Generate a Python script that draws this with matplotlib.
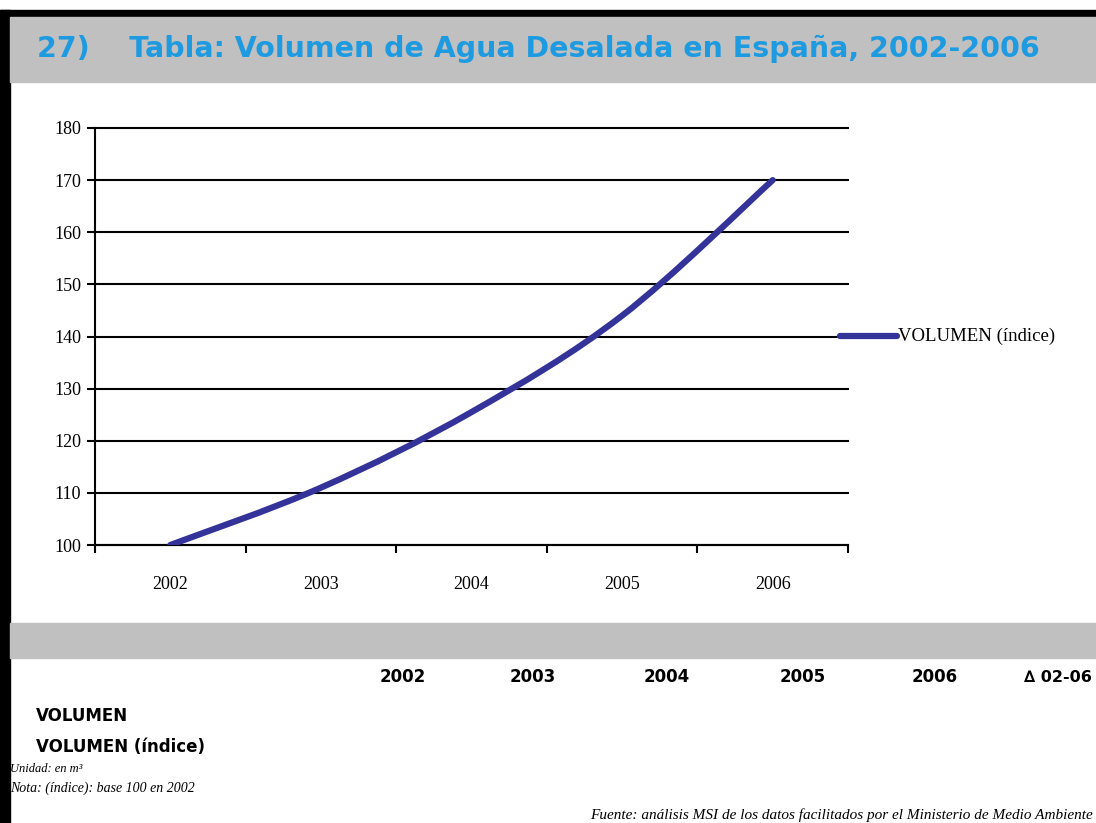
import numpy as np
import matplotlib.pyplot as plt
from matplotlib.path import Path
from matplotlib.patches import PathPatch, Rectangle
from matplotlib.lines import Line2D

# data
years = ["2002", "2003", "2004", "2005", "2006"]
volumen_indice = [100, 111, 125.5, 144, 170]
table_cols = ["2002", "2003", "2004", "2005", "2006", "\u2206 02-06"]
table_rows = ["VOLUMEN", "VOLUMEN (índice)"]

BLUE = "#333399"
TITLE_BLUE = "#1e9be0"
GRAY = "#c0c0c0"

fig = plt.figure(figsize=(10.96, 8.23), dpi=100)
W, H = 1096, 823

def fx(x):
    return x / W

def fy(y):
    return 1 - y / H

# frame, title band, table band
fig.patches.append(Rectangle((0, fy(823)), fx(10), fy(10) - fy(823), transform=fig.transFigure,
                             color="black", zorder=0))
fig.patches.append(Rectangle((0, fy(17)), 1, fy(10) - fy(17), transform=fig.transFigure,
                             color="black", zorder=0))
fig.patches.append(Rectangle((fx(10), fy(82)), 1, fy(17) - fy(82), transform=fig.transFigure,
                             color=GRAY, zorder=0))
fig.patches.append(Rectangle((fx(10), fy(658)), 1, fy(623) - fy(658), transform=fig.transFigure,
                             color=GRAY, zorder=0))

fig.text(fx(37), fy(49), "27)    Tabla: Volumen de Agua Desalada en España, 2002-2006",
         color=TITLE_BLUE, fontsize=20.5, fontweight="bold", family="DejaVu Sans",
         va="center", ha="left")

# chart
ax = fig.add_axes([fx(95), fy(545), fx(848) - fx(95), fy(128) - fy(545)])
x = np.arange(len(years))
ax.set_xlim(-0.5, len(years) - 0.5)
ax.set_ylim(100, 180)
ax.set_yticks(range(100, 181, 10))
ax.set_xticks(x)
ax.set_xticklabels(years)
ax.set_xticks(np.arange(-0.5, len(years), 1), minor=True)
ax.tick_params(axis="x", which="major", length=0, pad=22)
ax.tick_params(axis="x", which="minor", length=6, width=1.5, direction="out")
ax.tick_params(axis="y", length=6, width=1.5, direction="out", pad=4)
for lab in ax.get_xticklabels() + ax.get_yticklabels():
    lab.set_family("Liberation Serif")
    lab.set_fontsize(13)
ax.grid(axis="y", color="black", lw=1.5)
for gl in ax.get_ygridlines():
    gl.set_clip_on(False)
ax.set_axisbelow(True)
for s in ["top", "right"]:
    ax.spines[s].set_visible(False)
ax.spines["left"].set_linewidth(1.5)
ax.spines["bottom"].set_linewidth(1.5)

# smoothed line through the points (Catmull-Rom as cubic Bezier)
pts = np.column_stack([x, volumen_indice]).astype(float)
verts = [tuple(pts[0])]
codes = [Path.MOVETO]
for i in range(len(pts) - 1):
    p0 = pts[i - 1] if i > 0 else pts[i]
    p1, p2 = pts[i], pts[i + 1]
    p3 = pts[i + 2] if i + 2 < len(pts) else pts[i + 1]
    c1 = p1 + (p2 - p0) / 6
    c2 = p2 - (p3 - p1) / 6
    verts += [tuple(c1), tuple(c2), tuple(p2)]
    codes += [Path.CURVE4] * 3
ax.add_patch(PathPatch(Path(verts, codes), fill=False, edgecolor=BLUE, lw=4.5,
                       capstyle="round", zorder=3))

# legend
fig.lines.append(Line2D([fx(840), fx(897)], [fy(336), fy(336)], transform=fig.transFigure,
                        color=BLUE, lw=4.5, solid_capstyle="round"))
fig.text(fx(898), fy(336), "VOLUMEN (índice)", family="Liberation Serif", fontsize=13.5,
         va="center", ha="left")

# table
col_x = [403, 533, 667, 803, 935]
for cx, c in zip(col_x, table_cols[:-1]):
    fig.text(fx(cx), fy(677), c, fontsize=12, fontweight="bold", family="DejaVu Sans",
             ha="center", va="center")
fig.text(fx(1092), fy(677), table_cols[-1], fontsize=11.5, fontweight="bold",
         family="DejaVu Sans", ha="right", va="center")
fig.text(fx(36), fy(716), table_rows[0], fontsize=12, fontweight="bold",
         family="DejaVu Sans", ha="left", va="center")
fig.text(fx(36), fy(747), table_rows[1], fontsize=12, fontweight="bold",
         family="DejaVu Sans", ha="left", va="center")
fig.text(fx(10), fy(769), "Unidad: en m³", fontsize=9, style="italic",
         family="Liberation Serif", ha="left", va="center")
fig.text(fx(10), fy(788), "Nota: (índice): base 100 en 2002", fontsize=10, style="italic",
         family="Liberation Serif", ha="left", va="center")
fig.text(fx(1093), fy(815), "Fuente: análisis MSI de los datos facilitados por el Ministerio de Medio Ambiente",
         fontsize=11, style="italic", family="Liberation Serif", ha="right", va="center")

fig.savefig("out.png", dpi=100)
